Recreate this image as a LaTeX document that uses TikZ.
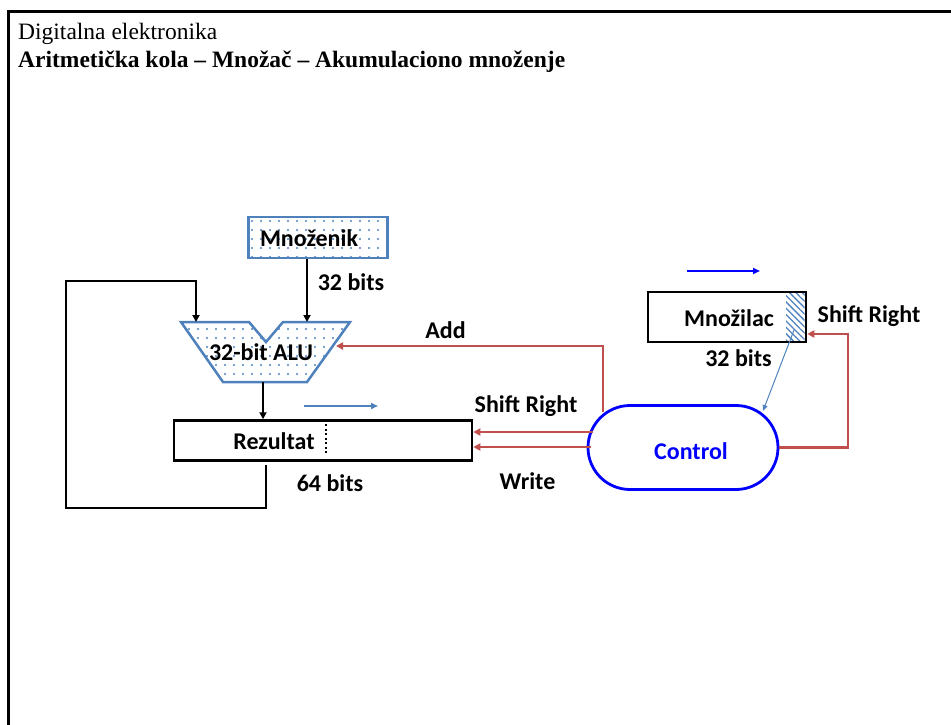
\documentclass[tikz,border=0pt]{standalone}
\usepackage{fontspec}
\setmainfont{Liberation Serif}
\newfontfamily\lblfont{Carlito}
\usetikzlibrary{arrows.meta,shapes.misc,patterns.meta}
\definecolor{alublue}{HTML}{4F81BD}
\definecolor{ctrlred}{HTML}{C0504D}
\definecolor{ctrlblue}{HTML}{0000FF}
\begin{document}
\begin{tikzpicture}[x=1pt,y=-1pt,
  lbl/.style={font=\lblfont\bfseries\fontsize{24}{28}\selectfont, inner sep=0pt, anchor=center},
  regbox/.style={draw=black, line width=2.5pt, inner sep=0pt},
  bluebox/.style={draw=alublue, line width=2.5pt, inner sep=0pt,
    pattern={Dots[distance=9pt, radius=1.1pt]}, pattern color=alublue},
  datapath/.style={draw=black, line width=2.4pt, -{Triangle[length=7pt,width=7pt]}},
  ctrlline/.style={draw=ctrlred, line width=2.4pt, -{Triangle[length=7pt,width=7pt]}},
  shiftarrow/.style={line width=2.2pt, -{Triangle[length=7pt,width=6pt]}},
]
\useasboundingbox (0,0) rectangle (951,725);
% page frame and heading
\draw[line width=3pt] (8,725) -- (8,12) -- (951,12);
\node[anchor=base west, inner sep=0pt, font=\fontsize{23.5}{26}\selectfont] (head1) at (18,40) {Digitalna elektronika};
\node[anchor=base west, inner sep=0pt, font=\bfseries\fontsize{23.5}{26}\selectfont] (head2) at (18,68) {Aritmetička kola – Množač – Akumulaciono množenje};

% multiplicand register
\node[bluebox, minimum width=139pt, minimum height=41pt] (mnozenik) at (318,237.5) {};
\node[lbl] (mnozeniktxt) at (309,238) {Množenik};
\node[lbl] (bits32a) at (351,282) {32 bits};

% ALU outline
\path[bluebox] (181,322) -- (249,322) -- (266,342) -- (283,322) -- (350,322)
  -- (307,382) -- (223,382) -- cycle;
\node[lbl] (alu) at (261,352) {32-bit ALU};
\coordinate (aluinL) at (196,322);
\coordinate (aluinR) at (307,322);
\coordinate (aluout) at (263,382);
\coordinate (aluside) at (336,346);

% product register
\node[regbox, minimum width=298pt, minimum height=40pt] (rezultat) at (323,440.5) {};
\node[lbl] (rezultattxt) at (274,441.5) {Rezultat};
\draw[line width=2.2pt, dash pattern=on 2pt off 2.5pt] (326,424) -- (326,454);
\node[lbl] (bits64) at (330,483) {64 bits};
\draw[alublue, shiftarrow] (304,406) -- (378,406);

% multiplier register
\node[regbox, minimum width=158pt, minimum height=50pt] (mnozilac) at (727,317) {};
\path[pattern={Lines[angle=-45, distance=4.5pt, line width=1.3pt]}, pattern color=alublue]
  (786,293.5) rectangle (804.5,340.5);
\node[lbl] (mnozilactxt) at (729,318) {Množilac};
\node[lbl] (bits32b) at (738.5,358) {32 bits};
\draw[ctrlblue, shiftarrow] (687,271) -- (760,271);
\coordinate (lsb) at (794,330);

% control unit
\node[draw=ctrlblue, line width=2.8pt, rounded rectangle, minimum width=190pt, minimum height=84pt, inner sep=0pt] (control) at (683,447.5) {};
\node[lbl, text=ctrlblue] (controltxt) at (691,451.5) {Control};

% data paths
\draw[datapath] (mnozenik.south -| aluinR) -- (aluinR);
\draw[datapath] (aluout) -- (aluout |- rezultat.north);
\draw[datapath] (266,465) -- (266,508) -- (66,508) -- (66,281) -- (196,281) -- (aluinL);
\draw[alublue, line width=1pt, -{Triangle[length=6pt,width=5pt]}] (lsb) -- (763,411);

% control signals
\draw[ctrlline] (603,412) -- (603,346) -- (aluside);
\node[lbl] (addlbl) at (445.5,330.5) {Add};
\draw[ctrlline] (593,432) -- (rezultat.east |- 0,432);
\draw[ctrlline] (591,447) -- (rezultat.east |- 0,447);
\node[lbl] (shiftlbl) at (526,406.5) {Shift Right};
\node[lbl] (writelbl) at (527.5,481) {Write};
\draw[ctrlline] (control.east) -| (848,334) -- (mnozilac.east |- 0,334);
\node[lbl] (shiftlbl2) at (869,316) {Shift Right};
\end{tikzpicture}
\end{document}
